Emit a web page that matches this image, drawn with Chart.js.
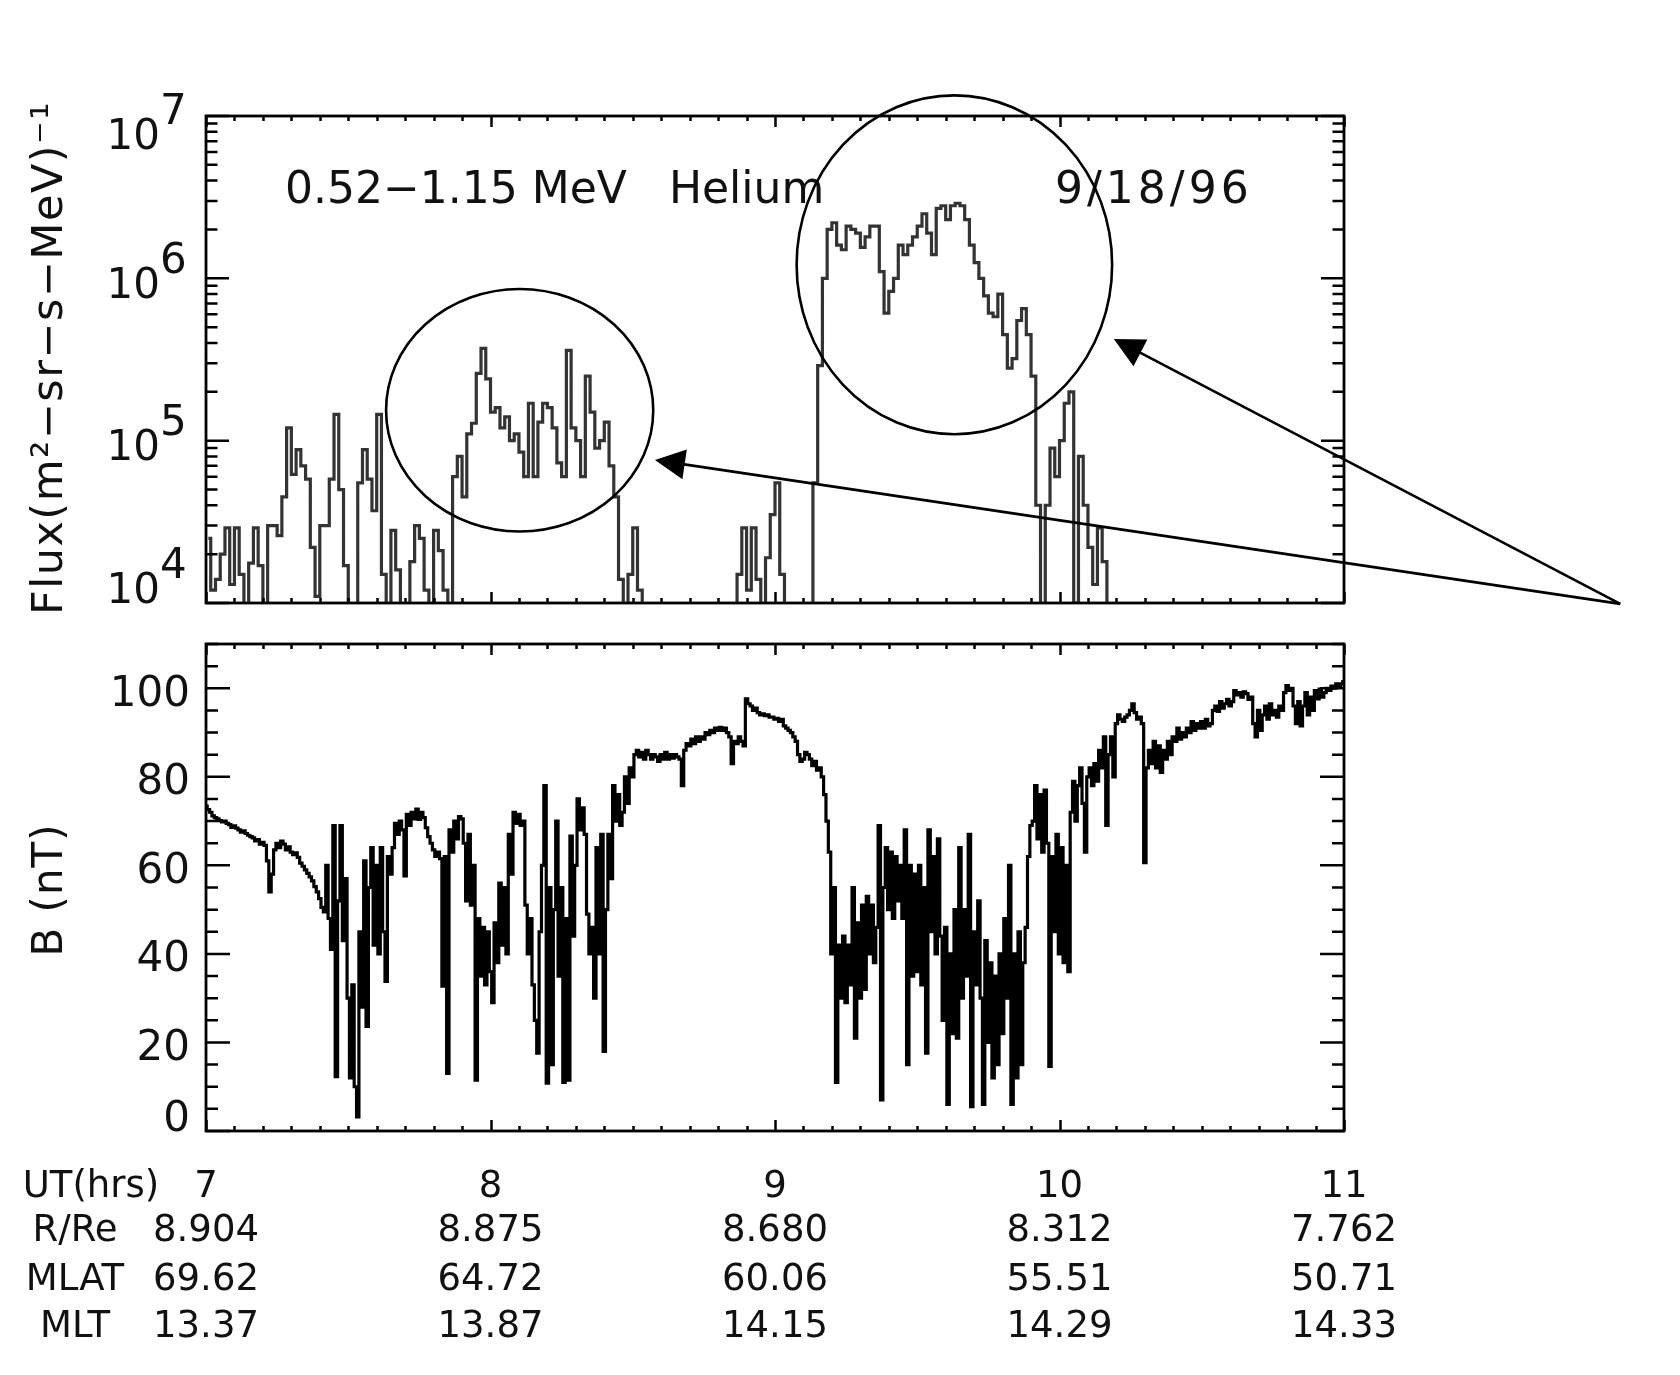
<!DOCTYPE html>
<html><head><meta charset="utf-8">
<script src="https://cdn.jsdelivr.net/npm/chart.js@4.4.1/dist/chart.umd.min.js"></script>
<style>
html,body{margin:0;padding:0;background:#fff;}
#wrap{position:relative;width:1680px;height:1375px;overflow:hidden;background:#fff;}
canvas{position:absolute;left:0;}
#topc{top:0;width:1680px;height:625px;}
#botc{top:625px;width:1680px;height:750px;}
</style></head><body>
<div id="wrap"><canvas id="topc" width="1680" height="625"></canvas><canvas id="botc" width="1680" height="750"></canvas></div>
<script>
// ---------------- DATA ----------------
// 0.52-1.15 MeV Helium flux, one value per 1-minute bin starting 07:00 UT (5e3 = below plotted range)
const fluxStartHour = 7;
const fluxBinMinutes = 1;
const fluxValues = [
  2.5e4, 1.2e4, 1.4e4, 2.0e4, 2.9e4, 1.3e4, 2.9e4, 1.5e4, 5e3, 1.76e4,
  2.9e4, 1.7e4, 5e3, 3.0e4, 3.0e4, 2.6e4, 4.5e4, 1.2e5, 6.2e4, 8.8e4,
  7.0e4, 5.8e4, 2.2e4, 1.1e4, 3.0e4, 3.0e4, 5.8e4, 1.45e5, 5.0e4, 1.7e4,
  5e3, 5e3, 5.5e4, 8.8e4, 5.8e4, 3.7e4, 1.45e5, 1.5e4, 5e3, 2.8e4,
  1.6e4, 5e3, 5e3, 1.8e4, 3.0e4, 2.5e4, 1.2e4, 5e3, 2.8e4, 2.1e4,
  1.2e4, 5e3, 6e4, 8e4, 4.5e4, 1.1e5, 1.28e5, 2.6e5, 3.7e5, 2.4e5,
  1.5e5, 1.6e5, 1.2e5, 1.4e5, 1.0e5, 1.1e5, 8.5e4, 6e4, 1.7e5, 6e4,
  1.3e5, 1.7e5, 1.6e5, 1.2e5, 7.3e4, 6e4, 3.6e5, 1.2e5, 1.0e5, 6e4,
  2.5e5, 1.5e5, 9e4, 1.0e5, 1.3e5, 7e4, 4.5e4, 1.4e4, 5e3, 1.5e4,
  2.9e4, 1.2e4, 5e3, 5e3, 5e3, 5e3, 5e3, 5e3, 5e3, 5e3,
  5e3, 5e3, 5e3, 5e3, 5e3, 5e3, 5e3, 5e3, 5e3, 5e3,
  5e3, 5e3, 1.5e4, 2.9e4, 1.2e4, 2.9e4, 1.4e4, 5e3, 1.9e4, 3.5e4,
  5.5e4, 1.5e4, 5e3, 5e3, 5e3, 5e3, 5e3, 5e3, 5.5e4, 2.9e5,
  1.0e6, 2.0e6, 2.2e6, 1.6e6, 1.5e6, 2.1e6, 2.0e6, 1.9e6, 1.55e6, 1.8e6,
  2.1e6, 2.1e6, 1.1e6, 6.1e5, 8.3e5, 1.0e6, 1.6e6, 1.4e6, 1.6e6, 1.8e6,
  2.1e6, 2.5e6, 1.9e6, 1.4e6, 2.7e6, 2.8e6, 2.3e6, 2.8e6, 2.9e6, 2.8e6,
  2.3e6, 1.6e6, 1.25e6, 1.0e6, 7.8e5, 6.1e5, 5.8e5, 8e5, 4.5e5, 2.8e5,
  3.2e5, 5.5e5, 6.5e5, 4.5e5, 2.5e5, 4e4, 5e3, 4e4, 9e4, 6e4,
  1.0e5, 1.7e5, 2.0e5, 1.0e4, 8e4, 4.0e4, 2.2e4, 1.3e4, 2.9e4, 1.8e4,
  5e3, 5e3, 5e3, 5e3, 5e3, 5e3, 5e3, 5e3, 5e3, 5e3,
  5e3, 5e3, 5e3, 5e3, 5e3, 5e3, 5e3, 5e3, 5e3, 5e3,
  5e3, 5e3, 5e3, 5e3, 5e3, 5e3, 5e3, 5e3, 5e3, 5e3,
  5e3, 5e3, 5e3, 5e3, 5e3, 5e3, 5e3, 5e3, 5e3, 5e3,
  5e3, 5e3, 5e3, 5e3, 5e3, 5e3, 5e3, 5e3, 5e3, 5e3
];

// Magnetic field magnitude B (nT), one sample every 30 s starting 07:00 UT
const bStartHour = 7;
const bStepSeconds = 30;
const bValues = [
  73.4, 72.6, 72, 71.2, 70.8, 70.5, 70.1, 69.8, 70, 69.5, 69.2, 68.6, 68.9, 68.4, 68, 67.5, 67.8, 67.2, 66.8, 66.5,
  66.2, 65.5, 65.8, 64.8, 65.2, 64.5, 61, 54, 58, 63.5, 65, 64, 65.5, 64.8, 63.5, 64.2, 63, 62.4, 62.8, 61.8,
  60.5, 59.8, 59, 58.2, 57.4, 56.5, 55.2, 54, 52.5, 50.5, 49.5, 60, 48, 41, 69, 12.3, 52, 69, 43, 57,
  30, 12, 33, 10, 3.2, 45, 28, 61, 23.6, 55, 64, 42, 60, 40, 64, 45, 33.8, 62, 58, 64,
  69.5, 67, 70, 68, 57.6, 71.5, 69, 72, 70.5, 72.7, 70.4, 72, 70.8, 68.5, 66.5, 65, 63.5, 62, 63, 61.5,
  32.7, 62, 13, 68, 63, 70, 66, 71, 70.5, 65, 52, 67, 51, 60, 11.5, 48, 35, 46, 33, 45,
  36, 29, 47, 38, 56, 42, 55, 40, 67, 58, 72, 69.5, 71.5, 69, 70, 51, 40, 48, 33, 25,
  17.6, 45, 60, 78, 10.8, 55, 15, 50, 70, 35, 55, 11, 48, 11.5, 66.6, 44, 60, 75, 68, 73,
  67, 49, 40, 46, 30, 64, 40, 67, 18, 50, 67, 57, 78, 70, 76, 69, 72, 80, 74, 82,
  80, 85, 86, 84.5, 85.5, 84, 86, 85, 84, 85, 84.5, 83.5, 85, 84, 85.5, 84, 85, 84.2, 85, 84.5,
  84, 78, 86, 87.5, 87, 88.5, 87.5, 89, 88, 89, 88.5, 90, 89.5, 90.5, 90, 91, 90.5, 91.2, 90.5, 91,
  90, 89, 83, 88, 87.5, 89, 88, 87, 97.6, 96.5, 96, 95, 95.5, 94.5, 94, 94.2, 93.8, 94, 93.5, 93.5,
  93, 93.2, 92.5, 93, 91.5, 91, 90.5, 90, 89, 88, 85, 83.5, 84, 85.5, 85, 84, 82.5, 83.5, 81.5, 82,
  80, 76, 70, 63, 40, 55, 11, 42, 30, 44, 29, 42, 33, 55, 21, 47, 30, 51, 32, 53,
  40, 51, 38, 46, 69, 7, 55, 64, 50, 63, 48, 62, 52, 60, 48, 68, 15, 60, 35, 58,
  36, 60, 33, 55, 17.6, 68, 45, 62, 40, 66, 44, 25, 46, 6, 40, 22, 50, 21, 64, 30,
  50, 35, 67, 5.5, 45, 33, 52, 30, 6, 43, 20, 38, 12, 35, 15, 40, 22, 48, 30, 60,
  6, 40, 12, 45, 15, 38, 46, 62, 69, 70, 78, 66, 76, 63, 77, 65, 14.6, 62, 45, 67,
  40, 64, 38, 60, 36, 72, 79, 70, 78, 82, 74, 63, 80, 82, 78, 83, 79, 86, 82, 89,
  69, 85, 89, 80, 92, 94, 93, 92.5, 93.5, 94, 95, 96.5, 94.5, 93, 93.5, 92, 60.6, 82, 86, 83,
  88, 82, 87, 81, 86, 84, 88, 85, 89, 88, 91, 88.5, 90, 89, 91, 90, 92.5, 90.5, 92, 91,
  92.5, 91, 93, 91.5, 92, 95, 96, 94.8, 97, 95.5, 96.5, 97.5, 96, 97, 99.5, 98.5, 99, 98, 99.2, 98.8,
  97.5, 98, 92, 89, 95, 90.5, 94, 96, 93, 96.5, 94, 95, 93.5, 96, 95, 99, 100.6, 99.5, 100, 96,
  92, 97, 91.5, 96, 99, 94, 98, 95, 99.5, 97.6, 99.8, 98, 99, 100, 99.5, 100.5, 100, 101, 100.5, 101,
  101.5
];

// Axis ticks and labels
const hourTicks = [7, 8, 9, 10, 11];
const utLabels = ['7', '8', '9', '10', '11'];
const rReLabels = ['8.904', '8.875', '8.680', '8.312', '7.762'];
const mlatLabels = ['69.62', '64.72', '60.06', '55.51', '50.71'];
const mltLabels = ['13.37', '13.87', '14.15', '14.29', '14.33'];
const rowTitles = ['UT(hrs)', 'R/Re', 'MLAT', 'MLT'];
const fluxTickExponents = [4, 5, 6, 7];
const bTickValues = [0, 20, 40, 60, 80, 100];
const fluxTitle = 'Flux(m²−sr−s−MeV)⁻¹';
const bTitle = 'B (nT)';
const panelText = '0.52−1.15 MeV   Helium';
const dateText = '9/18/96';

// Annotations (in data units: hours, flux)
const smallRing = { x0: 7.633, x1: 8.572, y0: 2.76e4, y1: 8.6e5 };
const largeRing = { x0: 9.076, x1: 10.185, y0: 1.096e5, y1: 1.34e7 };
const arrowFrom = { x: 11.971, y: 9.88e3 };
const arrowTips = [{ x: 8.578, y: 7.6e4 }, { x: 10.191, y: 4.23e5 }];

// ---------------- HELPERS ----------------
const FONT = '"DejaVu Sans", "Liberation Sans", sans-serif';
function text(ctx, s, x, cy, size, align, spacing) {
  ctx.save();
  ctx.font = size + 'px ' + FONT;
  ctx.fillStyle = '#111';
  ctx.textAlign = align || 'left';
  ctx.textBaseline = 'alphabetic';
  if (spacing) ctx.letterSpacing = spacing + 'px';
  ctx.fillText(s, x, cy + 0.3645 * size);
  ctx.restore();
}
function rotText(ctx, s, bx, cy, size, spacing) {
  ctx.save();
  ctx.translate(bx, cy);
  ctx.rotate(-Math.PI / 2);
  ctx.font = size + 'px ' + FONT;
  ctx.fillStyle = '#111';
  ctx.textAlign = 'center';
  ctx.textBaseline = 'alphabetic';
  if (spacing) ctx.letterSpacing = spacing + 'px';
  ctx.fillText(s, 0, 0);
  ctx.restore();
}
function frameAndTicks(chart, yTicks, yMajorLen, yMinorLen) {
  const { ctx, chartArea: a, scales: { x, y } } = chart;
  ctx.save();
  ctx.strokeStyle = '#000';
  ctx.lineWidth = 2.5;
  ctx.lineCap = 'butt';
  ctx.beginPath();
  for (let k = 0; k <= 40; k++) {
    const v = 7 + k * 0.1;
    const px = Math.round(x.getPixelForValue(v)) + 0.5;
    const len = (k % 10 === 0) ? 11 : 5;
    ctx.moveTo(px, a.bottom); ctx.lineTo(px, a.bottom - len);
    ctx.moveTo(px, a.top); ctx.lineTo(px, a.top + len);
  }
  yTicks.forEach(t => {
    const py = y.getPixelForValue(t.v);
    const len = t.major ? yMajorLen : yMinorLen;
    ctx.moveTo(a.left, py); ctx.lineTo(a.left + len, py);
    ctx.moveTo(a.right, py); ctx.lineTo(a.right - len, py);
  });
  ctx.stroke();
  ctx.lineWidth = 2.8;
  ctx.strokeRect(a.left, a.top, a.right - a.left, a.bottom - a.top);
  ctx.restore();
}

// ---------------- TOP PANEL ----------------
const fluxPoints = fluxValues.map((v, i) => ({ x: fluxStartHour + (i + 0.5) * fluxBinMinutes / 60, y: v }));
const fluxYTicks = [];
for (let e = 4; e < 7; e++) for (let m = 1; m < 10; m++) fluxYTicks.push({ v: m * Math.pow(10, e), major: m === 1 });
fluxYTicks.push({ v: 1e7, major: true });

const topDecor = {
  id: 'topDecor',
  afterDatasetsDraw(chart) {
    const { ctx, chartArea: a, scales: { x, y } } = chart;
    frameAndTicks(chart, fluxYTicks, 23, 11.5);
    // y tick labels 10^n
    fluxTickExponents.forEach(e => {
      const ty = y.getPixelForValue(Math.pow(10, e));
      const cy = Math.min(Math.max(ty + 4, a.top + 18), a.bottom - 15);
      text(ctx, '10', 160, cy, 42, 'right');
      text(ctx, String(e), 160, cy - 25, 42, 'left');
    });
    rotText(ctx, fluxTitle, 62, 358, 43, 1.5);
    text(ctx, panelText, 285, 187, 44, 'left');
    text(ctx, dateText, 1055, 187, 44, 'left', 4);
    // rings
    ctx.save();
    ctx.strokeStyle = '#000';
    ctx.lineWidth = 2.6;
    [smallRing, largeRing].forEach(r => {
      const x0 = x.getPixelForValue(r.x0), x1 = x.getPixelForValue(r.x1);
      const y0 = y.getPixelForValue(r.y0), y1 = y.getPixelForValue(r.y1);
      ctx.beginPath();
      ctx.ellipse((x0 + x1) / 2, (y0 + y1) / 2, Math.abs(x1 - x0) / 2, Math.abs(y1 - y0) / 2, 0, 0, Math.PI * 2);
      ctx.stroke();
    });
    // arrows
    const ox = x.getPixelForValue(arrowFrom.x), oy = y.getPixelForValue(arrowFrom.y);
    arrowTips.forEach(t => {
      const tx = x.getPixelForValue(t.x), ty = y.getPixelForValue(t.y);
      const dx = tx - ox, dy = ty - oy, L = Math.hypot(dx, dy);
      const ux = dx / L, uy = dy / L;
      const hl = 30, hw = 15;
      const bx = tx - ux * hl, by = ty - uy * hl;
      ctx.beginPath();
      ctx.moveTo(ox, oy); ctx.lineTo(bx + ux * 2, by + uy * 2);
      ctx.lineWidth = 2.6;
      ctx.stroke();
      ctx.beginPath();
      ctx.moveTo(tx, ty);
      ctx.lineTo(bx - uy * hw, by + ux * hw);
      ctx.lineTo(bx + uy * hw, by - ux * hw);
      ctx.closePath();
      ctx.fillStyle = '#000';
      ctx.fill();
    });
    ctx.restore();
  }
};

new Chart(document.getElementById('topc'), {
  type: 'line',
  data: { datasets: [{ data: fluxPoints, stepped: 'middle', borderColor: '#333333', borderWidth: 3.2, pointRadius: 0, fill: false, tension: 0 }] },
  options: {
    responsive: false, animation: false, devicePixelRatio: 1, parsing: false,
    layout: { padding: { left: 0, right: 336, top: 116, bottom: 0 } },
    plugins: { legend: { display: false }, tooltip: { enabled: false }, title: { display: false } },
    scales: {
      x: { type: 'linear', min: 7, max: 11, grid: { display: false }, border: { display: false }, ticks: { display: false },
           afterFit: s => { s.height = 625 - 603; } },
      y: { type: 'logarithmic', min: 1e4, max: 1e7, grid: { display: false }, border: { display: false }, ticks: { display: false },
           afterFit: s => { s.width = 206; } }
    }
  },
  plugins: [topDecor]
});

// ---------------- BOTTOM PANEL ----------------
const bPoints = bValues.map((v, i) => ({ x: bStartHour + i * bStepSeconds / 3600, y: v }));
const bYTicks = [];
for (let v = 0; v <= 110; v += 5) bYTicks.push({ v: v, major: v % 20 === 0 });

const botDecor = {
  id: 'botDecor',
  afterDatasetsDraw(chart) {
    const { ctx, chartArea: a, scales: { x, y } } = chart;
    frameAndTicks(chart, bYTicks, 24, 12);
    bTickValues.forEach(v => {
      const ty = y.getPixelForValue(v);
      const cy = Math.min(Math.max(ty + 2, a.top + 16), a.bottom - 15.5);
      text(ctx, String(v), 190, cy, 42, 'right');
    });
    rotText(ctx, bTitle, 62, 890 - 625, 42, 1);
    // UT / orbit table under the axis
    const rows = [utLabels, rReLabels, mlatLabels, mltLabels];
    const rowY = [1184 - 625, 1228 - 625, 1277 - 625, 1324 - 625];
    rows.forEach((labels, r) => {
      hourTicks.forEach((h, k) => {
        text(ctx, labels[k], x.getPixelForValue(h), rowY[r], 37, 'center');
      });
    });
    const titleX = [91, 75, 75, 75];
    rowTitles.forEach((t, r) => text(ctx, t, titleX[r], rowY[r], 37, 'center'));
  }
};

new Chart(document.getElementById('botc'), {
  type: 'line',
  data: { datasets: [{ data: bPoints, stepped: 'middle', borderColor: '#000', borderWidth: 3.2, pointRadius: 0, fill: false, tension: 0 }] },
  options: {
    responsive: false, animation: false, devicePixelRatio: 1, parsing: false,
    layout: { padding: { left: 0, right: 336, top: 19, bottom: 0 } },
    plugins: { legend: { display: false }, tooltip: { enabled: false }, title: { display: false } },
    scales: {
      x: { type: 'linear', min: 7, max: 11, grid: { display: false }, border: { display: false }, ticks: { display: false },
           afterFit: s => { s.height = 750 - 506; } },
      y: { type: 'linear', min: 0, max: 110, grid: { display: false }, border: { display: false }, ticks: { display: false },
           afterFit: s => { s.width = 206; } }
    }
  },
  plugins: [botDecor]
});
</script>
</body></html>
